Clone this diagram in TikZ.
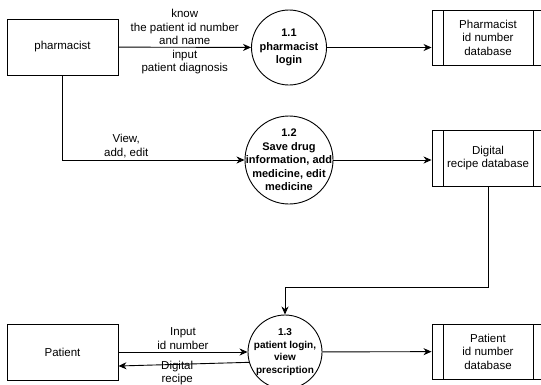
\documentclass[tikz,border=0pt]{standalone}
\usepackage{fontspec}
\setmainfont{Liberation Sans}
\usetikzlibrary{arrows.meta, positioning, calc}

\begin{document}
\begin{tikzpicture}[
        x=1pt, y=-1pt,
        font=\fontsize{11.5}{13.6}\selectfont,
        block/.style={
            rectangle,
            draw,
            line width=0.9pt,
            minimum width=111pt,
            minimum height=56pt,
            text centered,
            align=center
        },
        process/.style={
            circle,
            draw,
            line width=0.9pt,
            inner sep=-8pt,
            align=center,
            font=\fontsize{11}{13.6}\selectfont\bfseries
        },
        store/.style={
            block,
            minimum width=112pt,
            minimum height=55pt,
            path picture={
                \draw[line width=0.9pt]
                    ([xshift=11pt]path picture bounding box.north west) -- ([xshift=11pt]path picture bounding box.south west)
                    ([xshift=-11pt]path picture bounding box.north east) -- ([xshift=-11pt]path picture bounding box.south east);
            }
        },
        line/.style={draw, line width=0.9pt, -{Stealth[length=8pt, width=7pt, inset=2.5pt]}},
        lbl/.style={align=center, inner sep=2pt}
    ]
        \useasboundingbox (0,0) rectangle (541,384);
        \clip (0,0) rectangle (541,384);

        % nodes
        \node [block] (pharmacist) at (62.5,47) {pharmacist};
        \node [block] (patient) at (62.5,352) {Patient};
        \node [process, minimum size=75pt] (login) at (289,47.5) {1.1\\pharmacist\\login};
        \node [process, minimum size=88pt] (drugs) at (289,160) {1.2\\Save drug\\information, add\\medicine, edit\\medicine};
        \node [process, minimum size=74pt, font=\fontsize{10}{12.6}\selectfont\bfseries] (patientlogin) at (285,352) {1.3\\patient login,\\view\\prescription};
        \node [store] (pharmdb) at (488,37.5) {Pharmacist\\id number\\database};
        \node [store, minimum height=56pt] (recipedb) at (488,158) {Digital\\recipe database};
        \node [store] (patientdb) at (488,351.5) {Patient\\id number\\database};

        % paths
        \path [line] (pharmacist) -- node[lbl, above] {know\\the patient id number\\and name}
            node[lbl, below] {input\\patient diagnosis} (login);
        \path [line] (login) -- (login -| pharmdb.west);

        \path [line] (pharmacist) |- node[lbl, above, pos=0.675] {View,\\add, edit} (drugs);
        \path [line] (drugs) -- (drugs -| recipedb.west);

        \path [line] (recipedb.south) -- ++(0,101) -| (patientlogin);

        \path [line] (patient) -- node[lbl, above] {Input\\id number} (patientlogin);
        \path [line] (patientlogin.196) -- node[lbl, anchor=north, yshift=6pt, pos=0.55] {Digital\\recipe} ([yshift=-14pt]patient.east);
        \path [line] (patientlogin) -- (patientdb);

    \end{tikzpicture}
\end{document}
